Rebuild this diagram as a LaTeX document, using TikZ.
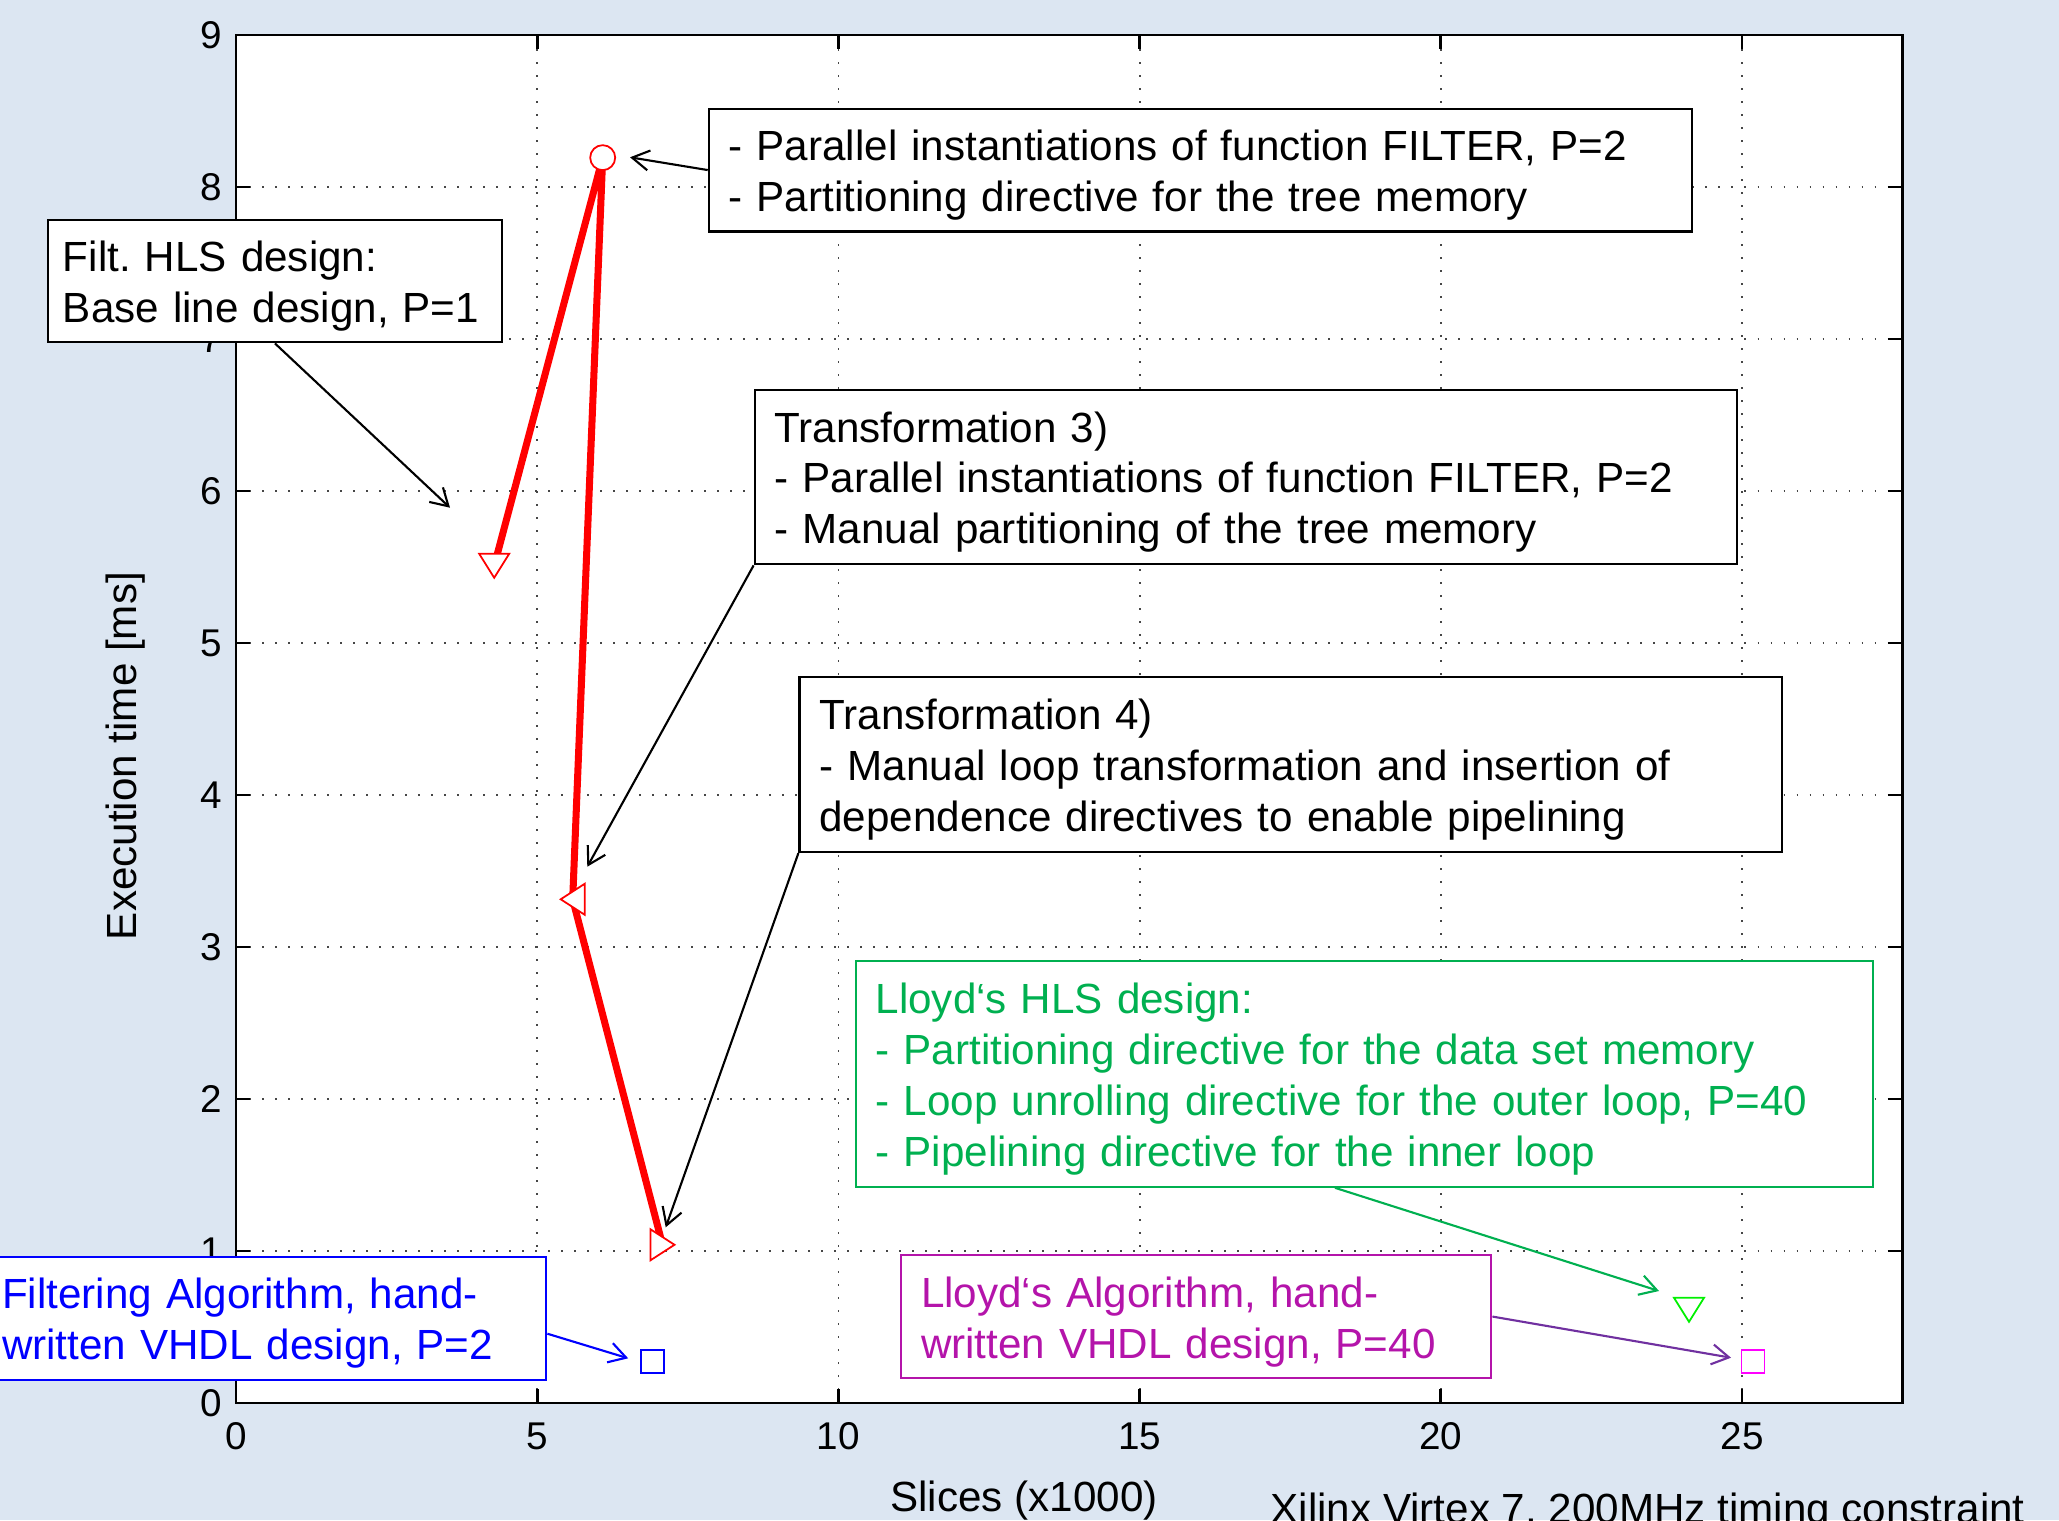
\documentclass[tikz,border=0pt]{standalone}
\usepackage{fontspec}
\setmainfont{Liberation Sans}
\usepackage{tikz}
\usetikzlibrary{arrows.meta, positioning}
\usepackage{xcolor}
\definecolor{pagebg}{RGB}{220,230,242}
\definecolor{griddot}{RGB}{70,70,70}
\definecolor{hlsgreen}{RGB}{0,176,80}
\definecolor{markgreen}{RGB}{0,240,0}
\definecolor{vhdlblue}{RGB}{0,0,255}
\definecolor{vhdlmagenta}{RGB}{180,20,170}
\definecolor{markmagenta}{RGB}{255,0,255}
\definecolor{arrowpurple}{RGB}{112,48,160}

\tikzset{
  griddots/.style={line width=0.5pt, griddot, dash pattern=on 0.5pt off 3.2pt},
  axisline/.style={line width=0.8pt, black},
  ticklabel/.style={inner sep=0pt, font=\fontsize{11}{13}\selectfont},
  labelfont/.style={inner sep=0pt, font=\fontsize{12}{14.5}\selectfont},
  note/.style={draw, line width=0.6pt, fill=white, anchor=north west, align=left,
    inner xsep=0.2cm, inner ysep=0pt, font=\fontsize{12}{14.5}\selectfont\frenchspacing,
    execute at begin node={\rule{0pt}{11.6pt}}},
  pointer/.style={-{Straight Barb[length=1.7mm, width=2mm]}, line width=0.6pt},
  marker/.style={line width=0.5pt, fill=white},
  % plot markers
  pics/downtri/.style={code={\draw[marker, draw=#1]
    (-0.15cm,0.12cm) -- (0.15cm,0.12cm) -- (0cm,-0.12cm) -- cycle;}},
  pics/lefttri/.style={code={\draw[marker, draw=#1]
    (0.12cm,0.155cm) -- (0.12cm,-0.155cm) -- (-0.12cm,0cm) -- cycle;}},
  pics/righttri/.style={code={\draw[marker, draw=#1]
    (-0.12cm,0.155cm) -- (-0.12cm,-0.155cm) -- (0.12cm,0cm) -- cycle;}},
  pics/ring/.style={code={\draw[marker, draw=#1] (0,0) circle[radius=0.125cm];}},
  pics/sq/.style={code={\draw[marker, draw=#1]
    (-0.115cm,-0.115cm) rectangle (0.115cm,0.115cm);}},
}

\begin{document}
\begin{tikzpicture}
  % page
  \useasboundingbox (0,0) rectangle (20.59,15.20);
  \fill[pagebg] (0,0) rectangle (20.59,15.20);

  % plot area in data units (x: slices/1000, y: ms)
  \begin{scope}[shift={(2.36,1.17)}, x=0.6024cm, y=1.52cm]
    \def\xmax{27.66} \def\ymax{9}
    \fill[white] (0,0) rectangle (\xmax,\ymax);
    % grid
    \foreach \x in {5,10,...,25}
      \draw[griddots] (\x,0) -- (\x,\ymax);
    \foreach \y in {1,...,8}
      \draw[griddots] (0,\y) -- (\xmax,\y);
    % measured designs
    \coordinate (base) at (4.286,5.508);
    \coordinate (par) at (6.087,8.193);
    \coordinate (tr3) at (5.589,3.314);
    \coordinate (tr4) at (7.080,1.041);
    \coordinate (fvhdl) at (6.917,0.274);
    \coordinate (lhls) at (24.12,0.613);
    \coordinate (lvhdl) at (25.18,0.272);
    \draw[red, line width=2pt, line join=round] (base) -- (par) -- (tr3) -- (tr4);
    \pic at (base) {downtri=red};
    \pic at (par) {ring=red};
    \pic at (tr3) {lefttri=red};
    \pic at (tr4) {righttri=red};
    \pic at (fvhdl) {sq=vhdlblue};
    \pic at (lhls) {downtri=markgreen};
    \pic at (lvhdl) {sq=markmagenta};
    % axes box, ticks and tick labels
    \draw[axisline] (0,0) rectangle (\xmax,\ymax);
    \foreach \x in {0,5,...,25} {
      \draw[axisline] (\x,0) -- ++(0pt,0.14cm);
      \draw[axisline] (\x,\ymax) -- ++(0pt,-0.14cm);
      \node[ticklabel, anchor=north] (xt\x) at ([yshift=-0.19cm]\x,0) {\x};
    }
    \foreach \y in {0,...,9} {
      \draw[axisline] (0,\y) -- ++(0.14cm,0pt);
      \draw[axisline] (\xmax,\y) -- ++(-0.14cm,0pt);
      \node[ticklabel, anchor=east] (yt\y) at ([xshift=-0.13cm]0,\y) {\y};
    }
  \end{scope}

  % axis labels
  \node[labelfont, rotate=90, anchor=base] (ylab) at (1.367,7.64) {Execution time [ms]};
  \node[labelfont, anchor=base] (xlab) at (10.24,0.083) {Slices (x1000)};
  \node[labelfont, anchor=base west] (fpga) at (12.70,-0.03)
    {Xilinx Virtex 7, 200MHz timing constraint};

  % text boxes
  \node[note, inner xsep=0.15cm, text width=4.24cm, minimum height=1.226cm] (filtHLS)
    at (0.469,13.013) {Filt. HLS design:\\Base line design, P=1};
  \node[note, text width=9.433cm, minimum height=1.228cm] (parDir) at (7.077,14.124)
    {- Parallel instantiations of function FILTER, P=2\\
     - Partitioning directive for the tree memory};
  \node[note, text width=9.424cm, minimum height=1.748cm] (trafoThree) at (7.536,11.315)
    {Transformation 3)\\
     - Parallel instantiations of function FILTER, P=2\\
     - Manual partitioning of the tree memory};
  \node[note, text width=9.422cm, minimum height=1.747cm] (trafoFour) at (7.984,8.437)
    {Transformation 4)\\
     - Manual loop transformation and insertion of\\
     dependence directives to enable pipelining};
  \node[note, draw=hlsgreen, text=hlsgreen, text width=9.777cm, minimum height=2.26cm]
    (lloydHLS) at (8.546,5.603)
    {Lloyd‘s HLS design:\\
     - Partitioning directive for the data set memory\\
     - Loop unrolling directive for the outer loop, P=40\\
     - Pipelining directive for the inner loop};
  \node[note, draw=vhdlblue, text=vhdlblue, text width=5.243cm, minimum height=1.227cm]
    (filtVHDL) at (-0.19,2.64)
    {Filtering Algorithm, hand-\\written VHDL design, P=2};
  \node[note, draw=vhdlmagenta, text=vhdlmagenta, text width=5.503cm, minimum height=1.23cm]
    (lloydVHDL) at (9.00,2.66)
    {Lloyd‘s Algorithm, hand-\\written VHDL design, P=40};

  % arrows to the markers
  \coordinate (tipBase) at (4.50,10.123);
  \coordinate (tipPar) at (6.30,13.627);
  \coordinate (tipTr3) at (5.873,6.533);
  \coordinate (tipTr4) at (6.657,2.927);
  \coordinate (tipLhls) at (16.59,2.29);
  \coordinate (tipLvhdl) at (17.31,1.623);
  \coordinate (tipFvhdl) at (6.282,1.617);
  \draw[pointer] (filtHLS.south) -- (tipBase);
  \draw[pointer] (parDir.west) -- (tipPar);
  \draw[pointer] (trafoThree.south west) -- (tipTr3);
  \draw[pointer] (trafoFour.south west) -- (tipTr4);
  \draw[pointer, hlsgreen] ([xshift=-0.295cm]lloydHLS.south) -- (tipLhls);
  \draw[pointer, arrowpurple] (lloydVHDL.east) -- (tipLvhdl);
  \draw[pointer, vhdlblue] ([yshift=-0.153cm]filtVHDL.east) -- (tipFvhdl);
\end{tikzpicture}
\end{document}
